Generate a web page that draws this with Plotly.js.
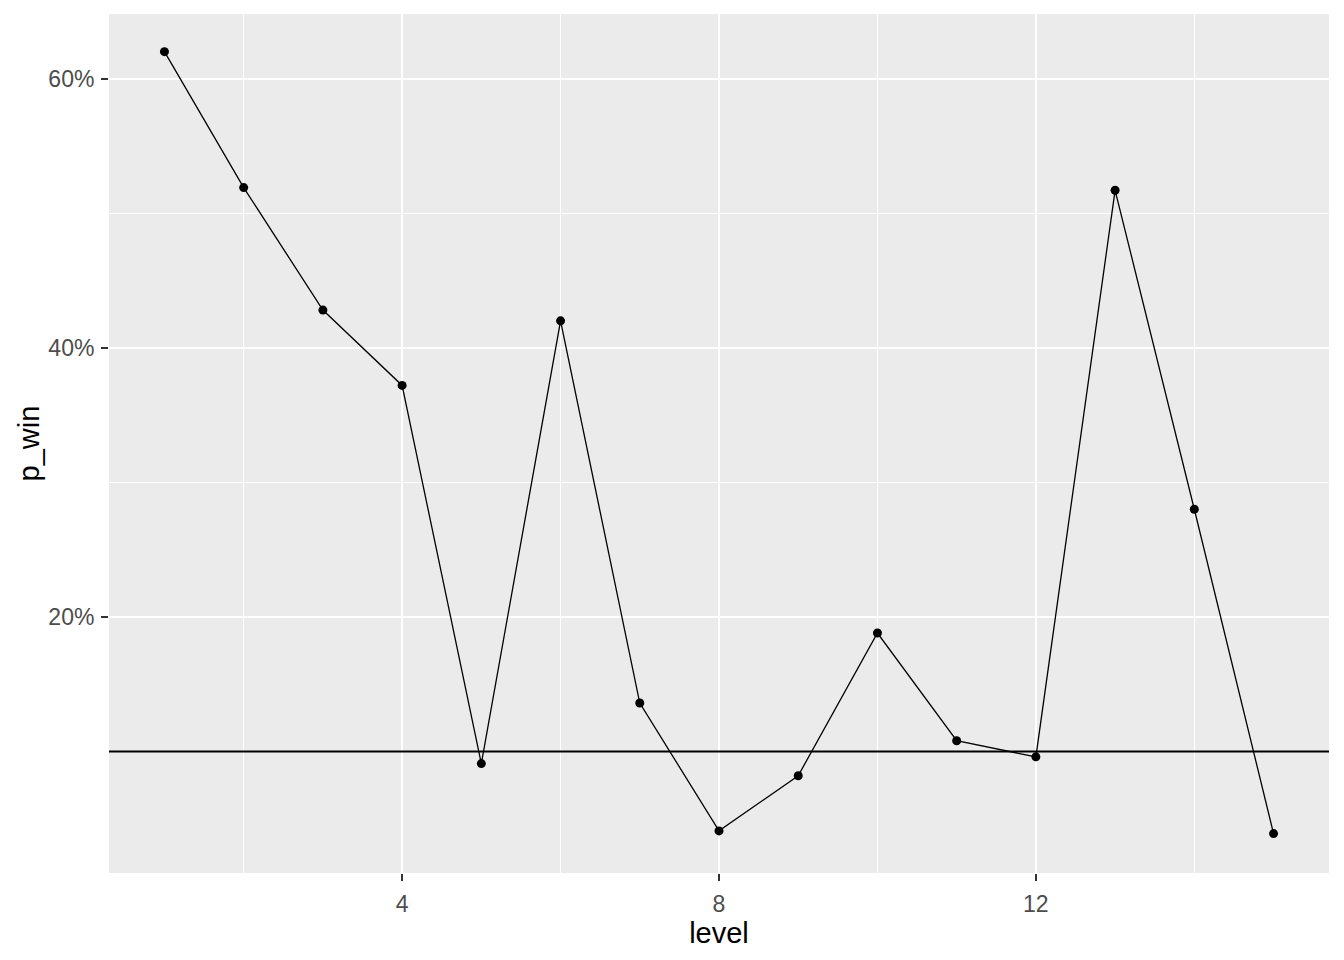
<!DOCTYPE html>
<html>
<head>
<meta charset="utf-8">
<script src="https://cdn.plot.ly/plotly-3.0.1.min.js"></script>
<style>
  body { margin: 0; background: #ffffff; }
  #graphDiv { width: 1344px; height: 960px; }
</style>
</head>
<body>
<div id="graphDiv"></div>
<script>
// values (p_win per level, as fractions)
let levels = [1, 2, 3, 4, 5, 6, 7, 8, 9, 10, 11, 12, 13, 14, 15];
let pWin = [0.620, 0.519, 0.428, 0.372, 0.091, 0.420, 0.136, 0.041, 0.082, 0.188, 0.108, 0.096, 0.517, 0.280, 0.039];
let refLine = 0.10;   // horizontal reference line
let xTicks = [4, 8, 12];
let yTicks = [0.2, 0.4, 0.6];
let yTickText = ['20%', '40%', '60%'];

function init() {
    let graphDiv = document.getElementById('graphDiv');

    let data = [{
        x: levels,
        y: pWin,
        type: 'scatter',
        mode: 'lines+markers',
        line: {color: '#000000', width: 1.3},
        marker: {color: '#000000', size: 9},
        hoverinfo: 'x+y'
    }];

    let font = 'Liberation Sans, Arial, sans-serif';

    let layout = {
        width: 1344,
        height: 960,
        margin: {l: 109, r: 15, t: 14, b: 87},
        paper_bgcolor: '#ffffff',
        plot_bgcolor: '#EBEBEB',
        showlegend: false,
        font: {family: font, color: '#4D4D4D', size: 23},
        xaxis: {
            range: [0.3, 15.7],
            tickvals: xTicks,
            ticktext: xTicks.map(String),
            ticks: 'outside',
            ticklen: 7,
            tickwidth: 2,
            tickcolor: '#333333',
            ticklabelstandoff: 3,
            showgrid: true,
            gridcolor: '#ffffff',
            gridwidth: 2,
            minor: {tickvals: [2, 6, 10, 14], showgrid: true, gridcolor: '#ffffff', gridwidth: 1, ticks: ''},
            zeroline: false,
            showline: false,
            tickfont: {family: font, size: 23, color: '#4D4D4D'},
            title: {text: 'level', font: {family: font, size: 29, color: '#000000'}, standoff: 5}
        },
        yaxis: {
            range: [0.0097, 0.648],
            tickvals: yTicks,
            ticktext: yTickText,
            ticks: 'outside',
            ticklen: 7,
            tickwidth: 2,
            tickcolor: '#333333',
            ticklabelstandoff: 2,
            showgrid: true,
            gridcolor: '#ffffff',
            gridwidth: 2,
            minor: {tickvals: [0.1, 0.3, 0.5], showgrid: true, gridcolor: '#ffffff', gridwidth: 1, ticks: ''},
            zeroline: false,
            showline: false,
            tickfont: {family: font, size: 23, color: '#4D4D4D'},
            title: {text: 'p_win', font: {family: font, size: 29, color: '#000000'}, standoff: 0}
        },
        shapes: [{
            type: 'line',
            xref: 'paper',
            x0: 0, x1: 1,
            yref: 'y',
            y0: refLine, y1: refLine,
            line: {color: '#000000', width: 2}
        }]
    };

    Plotly.newPlot(graphDiv, data, layout, {displayModeBar: false, staticPlot: true});
}

init();
</script>
</body>
</html>
